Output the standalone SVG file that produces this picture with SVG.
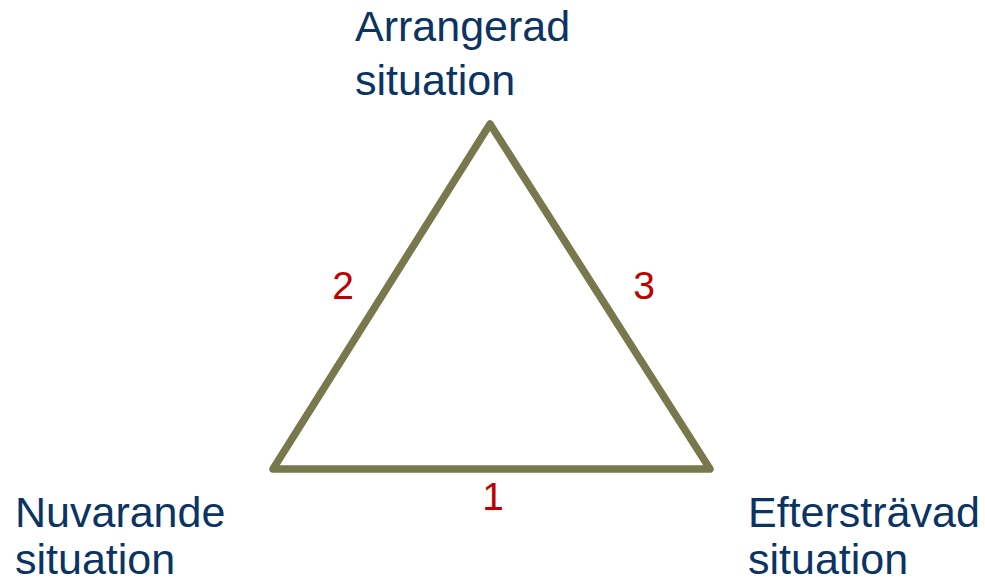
<svg xmlns="http://www.w3.org/2000/svg" width="985" height="583" viewBox="0 0 985 583">
<style>
.lbl{font-family:"Liberation Sans",Arial,sans-serif;font-size:43px;fill:#0b3463}
.num{font-family:"Liberation Sans",Arial,sans-serif;font-size:39px;fill:#c00000;text-anchor:middle}
.edge{fill:none;stroke:#77784b;stroke-width:7.5;stroke-linejoin:round;stroke-linecap:round}
</style>
<rect width="985" height="583" fill="#ffffff"/>
<g id="connectors">
<path class="edge" d="M273 469 L490 124 L710 469 Z"/>
</g>
<g id="edge-labels">
<text class="num" x="343" y="299">2</text>
<text class="num" x="644" y="299">3</text>
<text class="num" x="493" y="510">1</text>
</g>
<g id="node-arrangerad">
<text class="lbl" x="355" y="41">Arrangerad</text>
<text class="lbl" x="355" y="95">situation</text>
</g>
<g id="node-nuvarande">
<text class="lbl" x="15" y="527">Nuvarande</text>
<text class="lbl" x="15" y="574">situation</text>
</g>
<g id="node-eftersträvad">
<text class="lbl" x="748" y="527">Eftersträvad</text>
<text class="lbl" x="748" y="574">situation</text>
</g>
</svg>
